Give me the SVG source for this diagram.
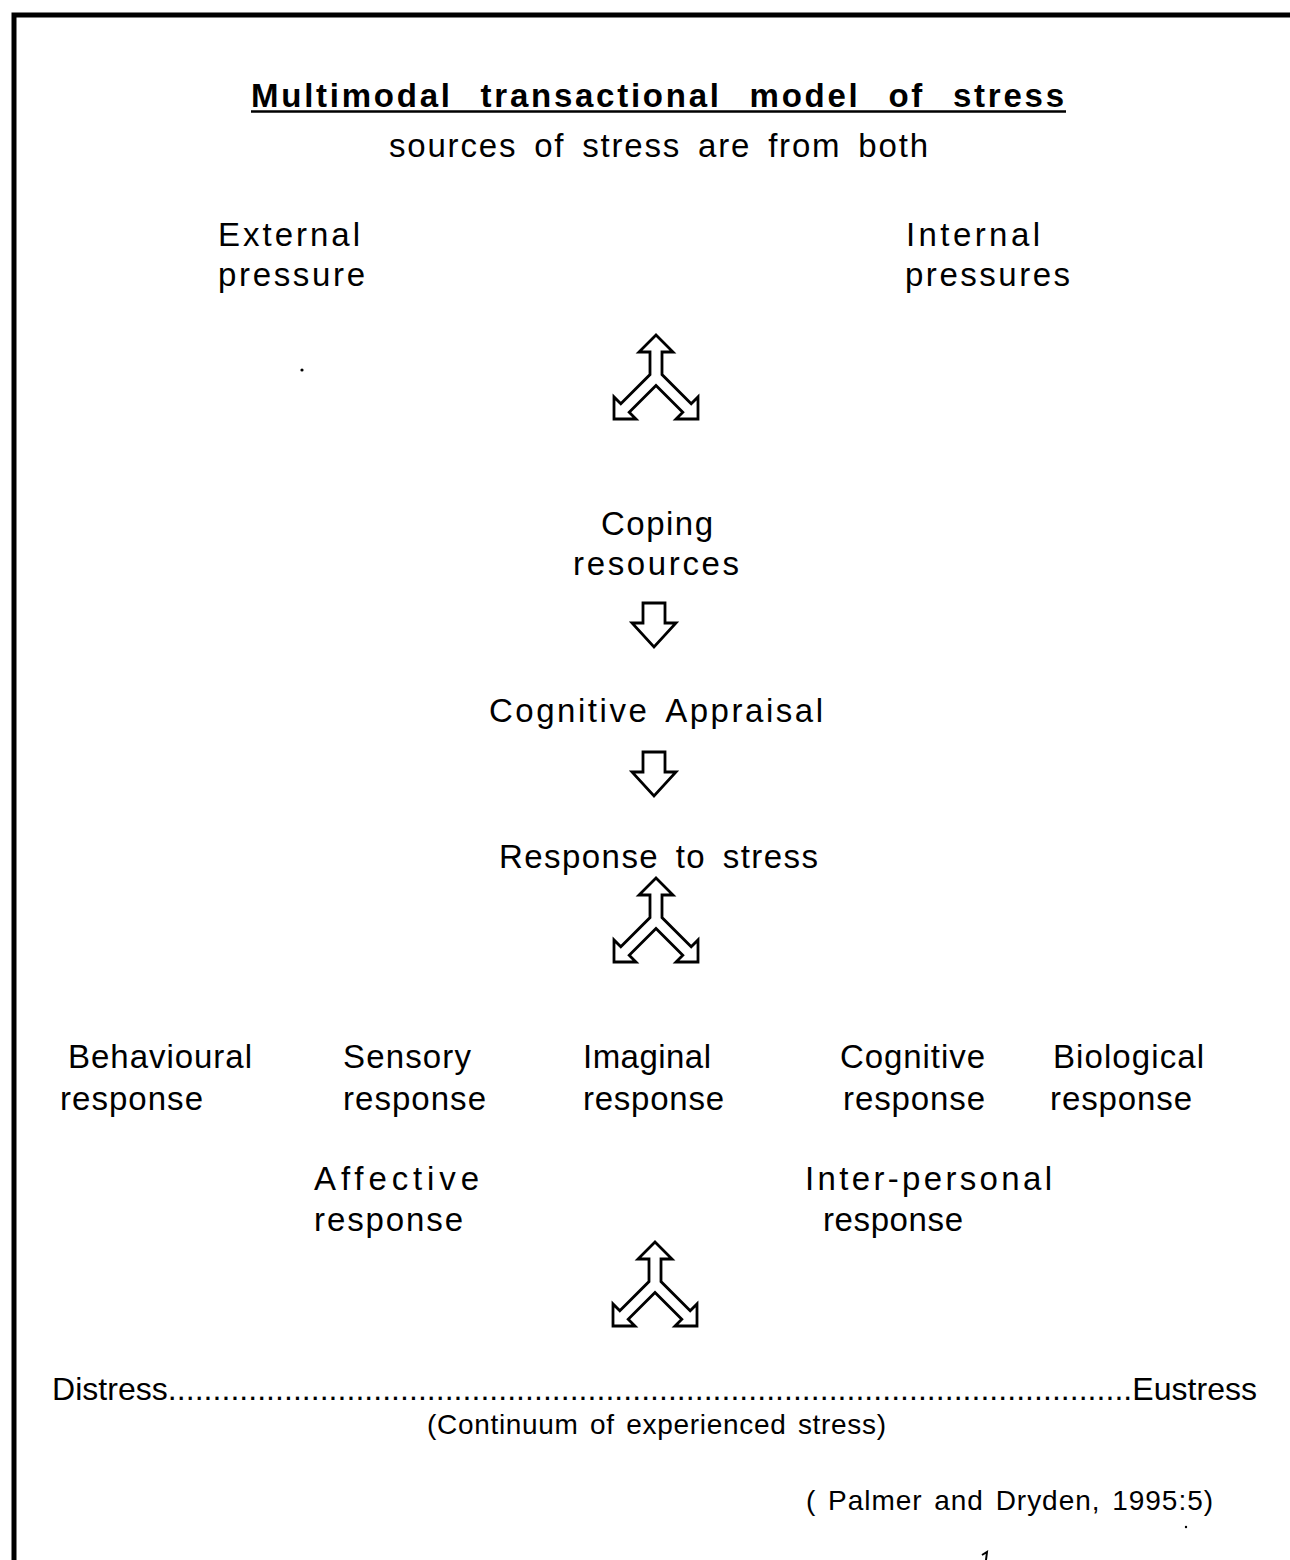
<svg xmlns="http://www.w3.org/2000/svg" width="1290" height="1560" viewBox="0 0 1290 1560">
  <defs>
    <style>
      text { font-family: "Liberation Sans", Arial, Helvetica, sans-serif; fill: #000; }
      .t { font-size: 33px; word-spacing: 6px; }
      .title { font-size: 33px; font-weight: bold; letter-spacing: 2px; word-spacing: 16px; }
      .big { font-size: 32px; }
      .small { font-size: 28px; word-spacing: 3px; }
      .arrow { fill: #fff; stroke: #000; stroke-width: 2.8; stroke-linejoin: miter; }
    </style>
    <!-- three-way hollow arrow: one head up, two heads angled down-left / down-right -->
    <path id="fork" class="arrow" d="M0,0 L17,17 L6,17 L6,39.6 L35.2,68.8 L42,62 L42,84 L20,84 L26.8,77.2 L0,50.4 L-26.8,77.2 L-20,84 L-42,84 L-42,62 L-35.2,68.8 L-6,39.6 L-6,17 L-17,17 Z"/>
    <!-- hollow down arrow -->
    <path id="down" class="arrow" d="M-11,0 L11,0 L11,20 L22,20 L0,44 L-22,20 L-11,20 Z"/>
  </defs>

  <rect width="1290" height="1560" fill="#fff"/>

  <!-- page frame (top and left edges) -->
  <path d="M14,1560 V15 H1290" fill="none" stroke="#000" stroke-width="5"/>

  <g id="heading">
    <text class="title" x="251" y="107" textLength="815" lengthAdjust="spacing">Multimodal transactional model of stress</text>
    <line x1="251" y1="111.5" x2="1066" y2="111.5" stroke="#000" stroke-width="2.5"/>
    <text class="t" x="389" y="157" textLength="539" lengthAdjust="spacing">sources of stress are from both</text>
  </g>

  <g id="external-pressure">
    <text class="t" x="218" y="246" textLength="142" lengthAdjust="spacing">External</text>
    <text class="t" x="218" y="286" textLength="147" lengthAdjust="spacing">pressure</text>
  </g>

  <g id="internal-pressures">
    <text class="t" x="906" y="246" textLength="134" lengthAdjust="spacing">Internal</text>
    <text class="t" x="905" y="286" textLength="165" lengthAdjust="spacing">pressures</text>
  </g>

  <g id="coping-resources">
    <text class="t" x="601" y="535" textLength="112" lengthAdjust="spacing">Coping</text>
    <text class="t" x="573" y="575" textLength="166" lengthAdjust="spacing">resources</text>
  </g>

  <g id="cognitive-appraisal">
    <text class="t" x="489" y="722" textLength="334" lengthAdjust="spacing">Cognitive  Appraisal</text>
  </g>

  <g id="response-to-stress">
    <text class="t" x="499" y="868" textLength="319" lengthAdjust="spacing">Response to stress</text>
  </g>

  <g id="behavioural-response">
    <text class="t" x="68" y="1068" textLength="184" lengthAdjust="spacing">Behavioural</text>
    <text class="t" x="60" y="1110" textLength="143" lengthAdjust="spacing">response</text>
  </g>

  <g id="sensory-response">
    <text class="t" x="343" y="1068" textLength="128" lengthAdjust="spacing">Sensory</text>
    <text class="t" x="343" y="1110" textLength="143" lengthAdjust="spacing">response</text>
  </g>

  <g id="imaginal-response">
    <text class="t" x="583" y="1068" textLength="128" lengthAdjust="spacing">Imaginal</text>
    <text class="t" x="583" y="1110" textLength="141" lengthAdjust="spacing">response</text>
  </g>

  <g id="cognitive-response">
    <text class="t" x="840" y="1068" textLength="145" lengthAdjust="spacing">Cognitive</text>
    <text class="t" x="843" y="1110" textLength="142" lengthAdjust="spacing">response</text>
  </g>

  <g id="biological-response">
    <text class="t" x="1053" y="1068" textLength="151" lengthAdjust="spacing">Biological</text>
    <text class="t" x="1050" y="1110" textLength="142" lengthAdjust="spacing">response</text>
  </g>

  <g id="affective-response">
    <text class="t" x="314" y="1190" textLength="165" lengthAdjust="spacing">Affective</text>
    <text class="t" x="314" y="1231" textLength="149" lengthAdjust="spacing">response</text>
  </g>

  <g id="interpersonal-response">
    <text class="t" x="805" y="1190" textLength="247" lengthAdjust="spacing">Inter-personal</text>
    <text class="t" x="823" y="1231" textLength="140" lengthAdjust="spacing">response</text>
  </g>

  <g id="continuum">
    <text class="big" x="52" y="1400" textLength="1205" lengthAdjust="spacing">Distress............................................................................................................Eustress</text>
    <text class="small" x="427" y="1434" textLength="459" lengthAdjust="spacing">(Continuum of experienced stress)</text>
  </g>

  <g id="citation">
    <text class="small" x="806" y="1510" textLength="407" lengthAdjust="spacing">( Palmer and Dryden, 1995:5)</text>
  </g>

  <g id="connectors">
    <use href="#fork" x="656" y="335"/>
    <use href="#down" x="654" y="603"/>
    <use href="#down" x="654" y="752"/>
    <use href="#fork" x="656" y="878"/>
    <use href="#fork" x="655" y="1242"/>
  </g>

  <!-- stray specks on the page -->
  <circle cx="302" cy="370" r="1.6" fill="#000"/>
  <circle cx="1186" cy="1527" r="1.2" fill="#000"/>
  <path d="M986,1560 L987,1552 L982,1555" fill="none" stroke="#000" stroke-width="2"/>
</svg>
